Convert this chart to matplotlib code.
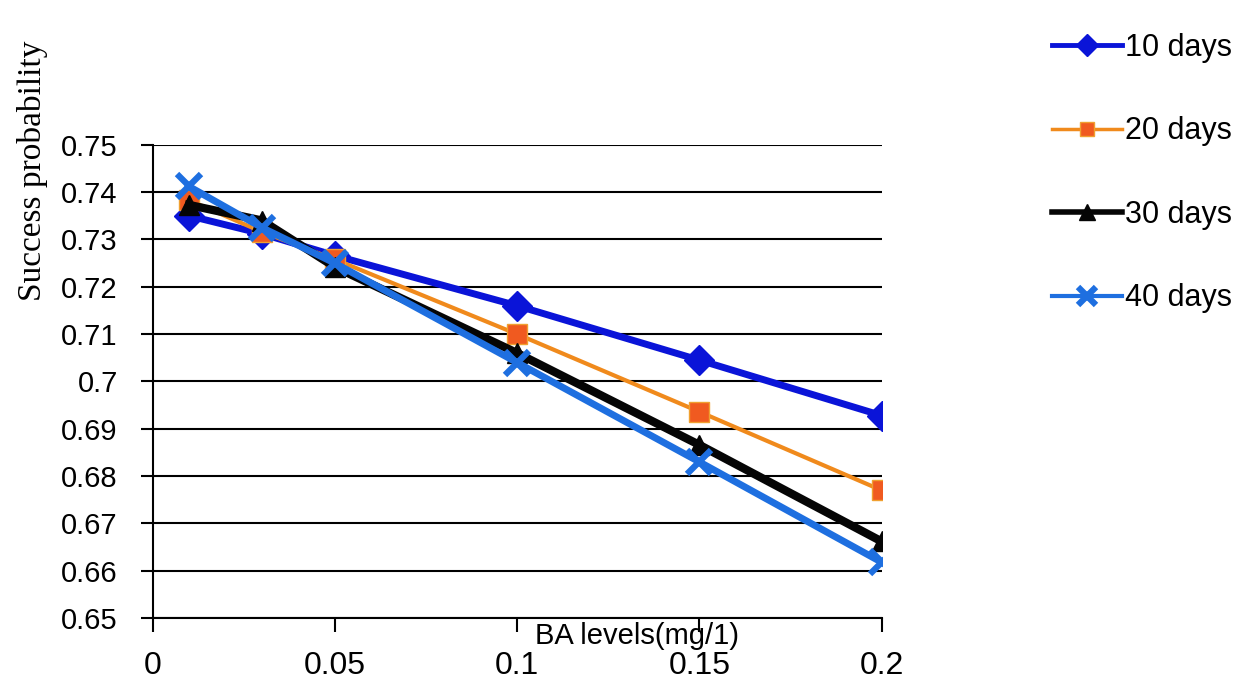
import matplotlib.pyplot as plt

# values
ba_levels = [0.01, 0.03, 0.05, 0.1, 0.15, 0.2]
days_10 = [0.7350, 0.7312, 0.7266, 0.7160, 0.7045, 0.6928]
days_20 = [0.7383, 0.7316, 0.7258, 0.7100, 0.6936, 0.6770]
days_30 = [0.7373, 0.7340, 0.7242, 0.7060, 0.6866, 0.6662]
days_40 = [0.7412, 0.7325, 0.7250, 0.7040, 0.6830, 0.6618]
series_labels = ['10 days', '20 days', '30 days', '40 days']

x_ticks = [0, 0.05, 0.1, 0.15, 0.2]
x_tick_labels = ['0', '0.05', '0.1', '0.15', '0.2']
y_ticks = [0.65, 0.66, 0.67, 0.68, 0.69, 0.70, 0.71, 0.72, 0.73, 0.74, 0.75]
y_tick_labels = ['0.65', '0.66', '0.67', '0.68', '0.69', '0.7', '0.71',
                 '0.72', '0.73', '0.74', '0.75']

plt.rcParams['font.family'] = ['Liberation Sans', 'DejaVu Sans']
narrow = ['Liberation Sans Narrow', 'Liberation Sans', 'DejaVu Sans']

fig = plt.figure(figsize=(12.4, 6.83), dpi=100)
ax = fig.add_axes([0.123, 0.095, 0.588, 0.693])

# horizontal gridlines, drawn like the Excel chart
for yv in y_ticks:
    ax.axhline(yv, color='black', lw=1.5, zorder=1)

ax.plot(ba_levels, days_10, color='#0a14d8', lw=5, marker='D', ms=15,
        label=series_labels[0], zorder=3)
ax.plot(ba_levels, days_20, color='#f08a1c', lw=3, marker='s', ms=14,
        mfc='#f05a20', mec='#f0a030', label=series_labels[1], zorder=4)
ax.plot(ba_levels, days_30, color='#050505', lw=6, marker='^', ms=15,
        label=series_labels[2], zorder=5)
ax.plot(ba_levels, days_40, color='#1e6fe0', lw=5, marker='x', ms=17, mew=4.5,
        label=series_labels[3], zorder=6)

ax.set_xlim(0, 0.2)
ax.set_ylim(0.65, 0.75)
ax.set_xticks(x_ticks)
ax.set_xticklabels(x_tick_labels, fontsize=23, family=narrow)
ax.set_yticks(y_ticks)
ax.set_yticklabels(y_tick_labels, fontsize=21)
ax.tick_params(axis='y', length=9, width=1.5, pad=16)
ax.tick_params(axis='x', length=10, width=1.5, pad=14)

for s in ['top', 'right']:
    ax.spines[s].set_visible(False)
ax.spines['left'].set_linewidth(1.5)
ax.spines['bottom'].set_linewidth(1.5)

ax.text(0.665, -0.008, 'BA levels(mg/1)', transform=ax.transAxes,
        ha='center', va='top', fontsize=21, family=narrow)
fig.text(0.026, 0.75, 'Success probability', rotation=90, ha='center',
         va='center', fontsize=24, family=['Liberation Serif', 'DejaVu Serif'])

leg = fig.legend(loc='upper left', bbox_to_anchor=(0.826, 0.992),
                 frameon=False, fontsize=22, labelspacing=1.75,
                 handlelength=2.3, handletextpad=0.1, markerscale=0.75)
# legend keys are drawn thinner than the plotted lines
for line, w in zip(leg.get_lines(), [3.5, 2.5, 4, 3]):
    line.set_linewidth(w)

fig.savefig('out.png', dpi=100)
